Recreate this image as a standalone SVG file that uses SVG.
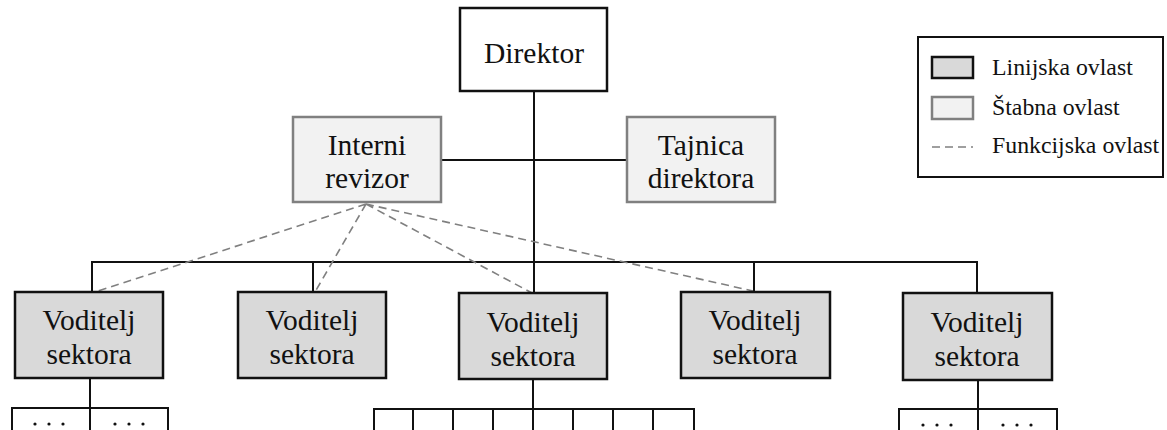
<svg xmlns="http://www.w3.org/2000/svg" width="1167" height="430" viewBox="0 0 1167 430">
<style>
text{font-family:"Liberation Serif","Times New Roman",serif;fill:#111;text-anchor:middle}
.t{font-size:29.5px}
.lg{font-size:23.8px;text-anchor:start}
.line{fill:#d9d9d9;stroke:#111;stroke-width:2.5}
.staff{fill:#f2f2f2;stroke:#808080;stroke-width:2.5}
.top{fill:#fff;stroke:#111;stroke-width:2.5}
.c{stroke:#111;stroke-width:2;fill:none}
.d{stroke:#808080;stroke-width:1.6;stroke-dasharray:8 5;fill:none}
.sub{fill:#fff;stroke:#111;stroke-width:2}
.dt{fill:#111}
</style>
<rect width="1167" height="430" fill="#fff"/>
<g id="connectors">
<path class="c" d="M534 91V293M441 160H627M92 292V262H977V293M313 262V292M754 262V292"/>
<path class="c" d="M90 378V408M533 379V409M978 380V409"/>
<path class="d" d="M366 204L95 292M366 204L315 292M366 204L532 293M366 204L753 291"/>
</g>
<g id="director"><rect class="top" x="460" y="8" width="147" height="83"/><text class="t" x="534" y="63">Direktor</text></g>
<g id="interni"><rect class="staff" x="293" y="117" width="148" height="85"/><text class="t" x="367" y="155">Interni</text><text class="t" x="367" y="188">revizor</text></g>
<g id="tajnica"><rect class="staff" x="627" y="117" width="148" height="85"/><text class="t" x="701" y="155">Tajnica</text><text class="t" x="701" y="188">direktora</text></g>
<g id="v1"><rect class="line" x="15" y="292" width="148" height="86"/><text class="t" x="89" y="330">Voditelj</text><text class="t" x="89" y="364">sektora</text></g>
<g id="v2"><rect class="line" x="238" y="292" width="148" height="86"/><text class="t" x="312" y="330">Voditelj</text><text class="t" x="312" y="364">sektora</text></g>
<g id="v3"><rect class="line" x="459" y="293" width="148" height="86"/><text class="t" x="533" y="332">Voditelj</text><text class="t" x="533" y="366">sektora</text></g>
<g id="v4"><rect class="line" x="681" y="292" width="149" height="86"/><text class="t" x="755" y="330">Voditelj</text><text class="t" x="755" y="364">sektora</text></g>
<g id="v5"><rect class="line" x="903" y="293" width="149" height="87"/><text class="t" x="977" y="332">Voditelj</text><text class="t" x="977" y="366">sektora</text></g>
<g id="sub1"><rect class="sub" x="12" y="408" width="156" height="40"/><path class="c" d="M90 408V430"/>
<g class="dt"><circle cx="35" cy="424" r="1.6"/><circle cx="49" cy="424" r="1.6"/><circle cx="63" cy="424" r="1.6"/><circle cx="115" cy="424" r="1.6"/><circle cx="129" cy="424" r="1.6"/><circle cx="143" cy="424" r="1.6"/></g></g>
<g id="sub3"><rect class="sub" x="374" y="409" width="320" height="40"/><path class="c" d="M413 409V430M453 409V430M493 409V430M533 409V430M573 409V430M613 409V430M653 409V430"/></g>
<g id="sub5"><rect class="sub" x="899" y="409" width="158" height="40"/><path class="c" d="M978 409V430"/>
<g class="dt"><circle cx="923" cy="425" r="1.6"/><circle cx="937" cy="425" r="1.6"/><circle cx="951" cy="425" r="1.6"/><circle cx="1003" cy="425" r="1.6"/><circle cx="1017" cy="425" r="1.6"/><circle cx="1031" cy="425" r="1.6"/></g></g>
<g id="legend"><rect x="918" y="37" width="245" height="140" fill="#fff" stroke="#111" stroke-width="2"/>
<rect class="line" x="932" y="57" width="41" height="21" stroke-width="2"/><text class="lg" x="992" y="75">Linijska ovlast</text>
<rect class="staff" x="932" y="97" width="41" height="22" stroke="#111" stroke-width="2"/><text class="lg" x="992" y="115">Štabna ovlast</text>
<path class="d" d="M932 147H973" stroke-dasharray="6 6"/><text class="lg" x="992" y="153">Funkcijska ovlast</text></g>
</svg>
